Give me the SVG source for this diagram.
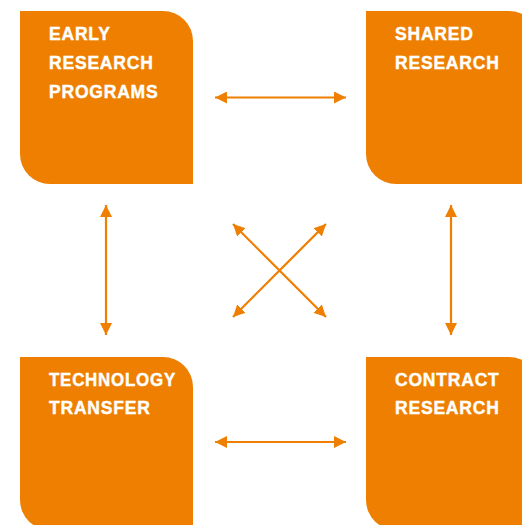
<svg xmlns="http://www.w3.org/2000/svg" width="522" height="525" viewBox="0 0 522 525">
  <style>
    .box { fill: #EE7F00; }
    .lbl { fill: #FFFFFF; stroke: #FFFFFF; stroke-width: 0.4; font-family: "Liberation Sans", Arial, sans-serif; font-weight: bold; font-size: 17.5px; letter-spacing: 0.8px; }
    .con { stroke: #EE7F00; stroke-width: 2.2; fill: none; marker-start: url(#ah); marker-end: url(#ah); }
  </style>
  <defs>
    <marker id="ah" viewBox="0 0 12 12" refX="12" refY="6" markerWidth="12" markerHeight="12" markerUnits="userSpaceOnUse" orient="auto-start-reverse">
      <path d="M0,0 L12,6 L0,12 Z" fill="#EE7F00"/>
    </marker>
  </defs>
  <rect width="522" height="525" fill="#FFFFFF"/>
  <g id="early-research-programs">
    <path class="box" d="M20,11 H163 A30,30 0 0 1 193,41 V184 H50 A30,30 0 0 1 20,154 Z"/>
    <text class="lbl" x="49" y="40">EARLY</text>
    <text class="lbl" x="49" y="69">RESEARCH</text>
    <text class="lbl" x="49" y="98">PROGRAMS</text>
  </g>
  <g id="shared-research">
    <path class="box" d="M366,11 H509 A30,30 0 0 1 539,41 V184 H396 A30,30 0 0 1 366,154 Z"/>
    <text class="lbl" x="395" y="40">SHARED</text>
    <text class="lbl" x="395" y="69">RESEARCH</text>
  </g>
  <g id="technology-transfer">
    <path class="box" d="M20,357 H163 A30,30 0 0 1 193,387 V530 H50 A30,30 0 0 1 20,500 Z"/>
    <text class="lbl" x="49" y="386" textLength="127" lengthAdjust="spacingAndGlyphs">TECHNOLOGY</text>
    <text class="lbl" x="49" y="414">TRANSFER</text>
  </g>
  <g id="contract-research">
    <path class="box" d="M366,357 H509 A30,30 0 0 1 539,387 V530 H396 A30,30 0 0 1 366,500 Z"/>
    <text class="lbl" x="395" y="386">CONTRACT</text>
    <text class="lbl" x="395" y="414">RESEARCH</text>
  </g>
  <g id="connectors">
    <line class="con" x1="215" y1="97.5" x2="346" y2="97.5"/>
    <line class="con" x1="215" y1="442" x2="346" y2="442"/>
    <line class="con" x1="106" y1="205" x2="106" y2="335"/>
    <line class="con" x1="451" y1="205" x2="451" y2="335"/>
    <line class="con" x1="233" y1="224" x2="326" y2="317"/>
    <line class="con" x1="326" y1="224" x2="233" y2="317"/>
  </g>
</svg>
